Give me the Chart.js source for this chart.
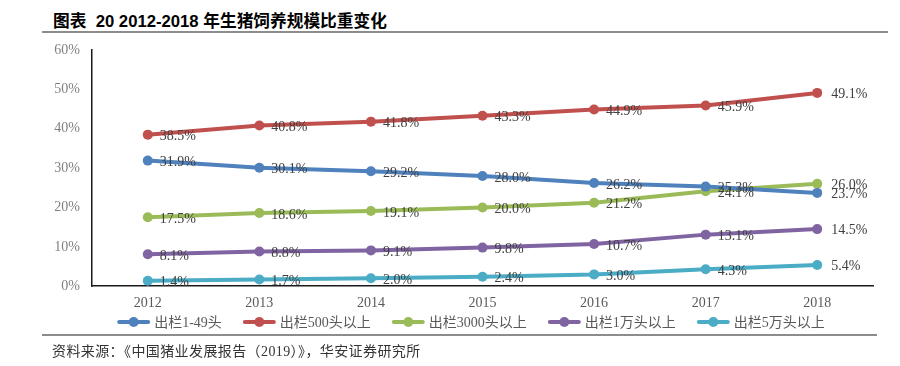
<!DOCTYPE html>
<html>
<head>
<meta charset="utf-8">
<script src="https://cdn.jsdelivr.net/npm/chart.js@4"></script>
<style>
  html, body { margin: 0; padding: 0; background: #fff; }
  #wrap { position: relative; width: 900px; height: 366px; overflow: hidden; }
  #chart { position: absolute; left: 0; top: 0; }
  .title { position: absolute; left: 53px; top: 8px; font: bold 16.7px "Liberation Sans", "Noto Sans CJK SC", sans-serif; color: #000; white-space: pre; }
  .rule-top { position: absolute; left: 42px; top: 31px; width: 846px; height: 2px; background: #8c8c8c; }
  .rule-bottom { position: absolute; left: 42px; top: 334px; width: 835px; height: 2px; background: #8c8c8c; }
  .source { position: absolute; left: 52px; top: 340px; font: 14px "Liberation Serif", "Noto Sans CJK SC", serif; letter-spacing: 0.4px; color: #333; white-space: nowrap; }
</style>
</head>
<body>
<div id="wrap">
  <div class="title">图表  20 2012-2018 年生猪饲养规模比重变化</div>
  <div class="rule-top"></div>
  <canvas id="chart" width="900" height="366"></canvas>
  <div class="rule-bottom"></div>
  <div class="source">资料来源：《中国猪业发展报告（2019）》，华安证券研究所</div>
</div>
<script>
const YEARS = ['2012','2013','2014','2015','2016','2017','2018'];
const SERIES_NAMES = ['出栏1-49头','出栏500头以上','出栏3000头以上','出栏1万头以上','出栏5万头以上'];
const S_1_49   = [31.9, 30.1, 29.2, 28.0, 26.2, 25.3, 23.7];
const S_500    = [38.5, 40.8, 41.8, 43.3, 44.9, 45.9, 49.1];
const S_3000   = [17.5, 18.6, 19.1, 20.0, 21.2, 24.1, 26.0];
const S_10K    = [8.1, 8.8, 9.1, 9.8, 10.7, 13.1, 14.5];
const S_50K    = [1.4, 1.7, 2.0, 2.4, 3.0, 4.3, 5.4];
const COLORS = ['#4f81bd','#c0504d','#9bbb59','#8064a2','#4bacc6'];

const SERIF = '"Liberation Serif", "Noto Sans CJK SC", serif';

const valueLabels = {
  id: 'valueLabels',
  afterDatasetsDraw(chart) {
    const ctx = chart.ctx;
    ctx.save();
    ctx.font = '14px ' + SERIF;
    ctx.fillStyle = '#404040';
    ctx.textBaseline = 'middle';
    ctx.textAlign = 'left';
    chart.data.datasets.forEach((ds, i) => {
      const meta = chart.getDatasetMeta(i);
      meta.data.forEach((pt, j) => {
        const last = j === meta.data.length - 1;
        ctx.fillText(ds.data[j].toFixed(1) + '%', pt.x + (last ? 14 : 12), pt.y + (last ? 1 : 2));
      });
    });
    ctx.restore();
  }
};

// legend drawn by hand: thick short line with a dot, then the name
const lineLegend = {
  id: 'lineLegend',
  afterDraw(chart) {
    const ctx = chart.ctx;
    const y = 322, lineLen = 33, gapText = 4, gapItem = 21;
    ctx.save();
    ctx.font = '14px ' + SERIF;
    const widths = SERIES_NAMES.map(n => ctx.measureText(n).width);
    const total = widths.reduce((a, w) => a + lineLen + gapText + w, 0) + gapItem * (SERIES_NAMES.length - 1);
    let x = 471 - total / 2;
    SERIES_NAMES.forEach((name, i) => {
      ctx.strokeStyle = COLORS[i];
      ctx.lineWidth = 4;
      ctx.lineCap = 'round';
      ctx.beginPath(); ctx.moveTo(x + 2, y); ctx.lineTo(x + lineLen - 2, y); ctx.stroke();
      ctx.fillStyle = COLORS[i];
      ctx.beginPath(); ctx.arc(x + lineLen / 2, y, 5, 0, Math.PI * 2); ctx.fill();
      ctx.fillStyle = '#595959';
      ctx.textBaseline = 'middle';
      ctx.fillText(name, x + lineLen + gapText, y + 1);
      x += lineLen + gapText + widths[i] + gapItem;
    });
    ctx.restore();
  }
};

const allData = [S_1_49, S_500, S_3000, S_10K, S_50K];

new Chart(document.getElementById('chart'), {
  type: 'line',
  data: {
    labels: YEARS,
    datasets: allData.map((d, i) => ({
      label: SERIES_NAMES[i],
      data: d,
      borderColor: COLORS[i],
      backgroundColor: COLORS[i],
      pointBackgroundColor: COLORS[i],
      pointBorderWidth: 0,
      pointRadius: 5,
      borderWidth: 4,
      tension: 0
    }))
  },
  options: {
    responsive: false,
    animation: false,
    layout: { padding: { left: 40, right: 27, top: 50, bottom: 45 } },
    plugins: {
      tooltip: { enabled: false },
      legend: { display: false }
    },
    scales: {
      x: {
        offset: true,
        grid: { display: false, drawTicks: false },
        border: { color: '#1a1a1a', width: 1.5 },
        ticks: { color: '#595959', padding: 9, font: { family: SERIF, size: 14 } }
      },
      y: {
        min: 0, max: 60,
        grid: { display: false, drawTicks: false },
        border: { color: '#1a1a1a', width: 1.5 },
        ticks: { stepSize: 10, color: '#808080', padding: 12, font: { family: SERIF, size: 14 }, callback: v => v + '%' },
        afterFit(s) { s.width = 52; }
      }
    }
  },
  plugins: [valueLabels, lineLegend]
});
</script>
</body>
</html>
